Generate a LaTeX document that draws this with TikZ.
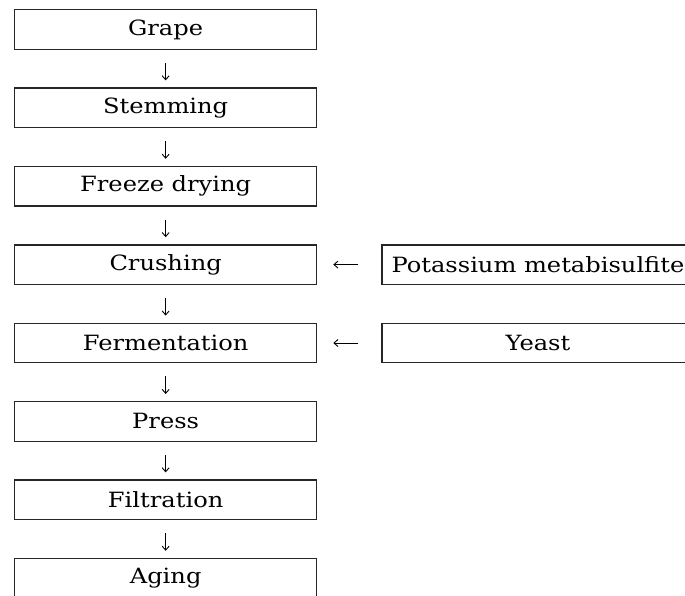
\documentclass[tikz,border=0pt]{standalone}
\usepackage{fontspec}
\setmainfont{DejaVu Serif}[FakeStretch=1.15]
\usetikzlibrary{positioning,arrows.meta}
\begin{document}
\begin{tikzpicture}[x=1pt,y=-1pt,node distance=37.6pt and 64pt,
                    s/.style={draw=black!85,rectangle,line width=1.3pt,minimum width=302pt,%
                    minimum height=39.5pt,inner sep=0pt,font=\fontsize{21}{24}\selectfont},%
                    r/.style={s,minimum width=312pt},%
                    a/.style={-{Straight Barb[length=4pt,width=7pt]},line width=.9pt}]
  \useasboundingbox (0,0) rectangle (685,595);
  \node[s,anchor=north west] (grape) at (14,9) {Grape};
  \node[s,below=of grape] (stemming) {Stemming};
  \node[s,below=of stemming] (freeze-drying) {Freeze drying};
  \node[s,below=of freeze-drying] (crushing) {Crushing};
  \node[s,below=of crushing] (fermentation) {Fermentation};
  \node[s,below=of fermentation] (press) {Press};
  \node[s,below=of press] (filtration) {Filtration};
  \node[s,below=of filtration] (aging) {Aging};
  \node[r,right=of crushing] (potassium) {Potassium metabisulfite};
  \node[r,right=of fermentation] (yeast) {Yeast};
  % flow down the left column
  \foreach \i/\j in {grape/stemming,stemming/freeze-drying,freeze-drying/crushing,%
                     crushing/fermentation,fermentation/press,press/filtration,filtration/aging}
    \draw[a,shorten <=13pt,shorten >=7pt] (\i) -- (\j);
  % additions
  \foreach \i/\j in {potassium/crushing,yeast/fermentation}
    \draw[a,shorten <=23pt,shorten >=16pt] (\i) -- (\j);
\end{tikzpicture}
\end{document}
